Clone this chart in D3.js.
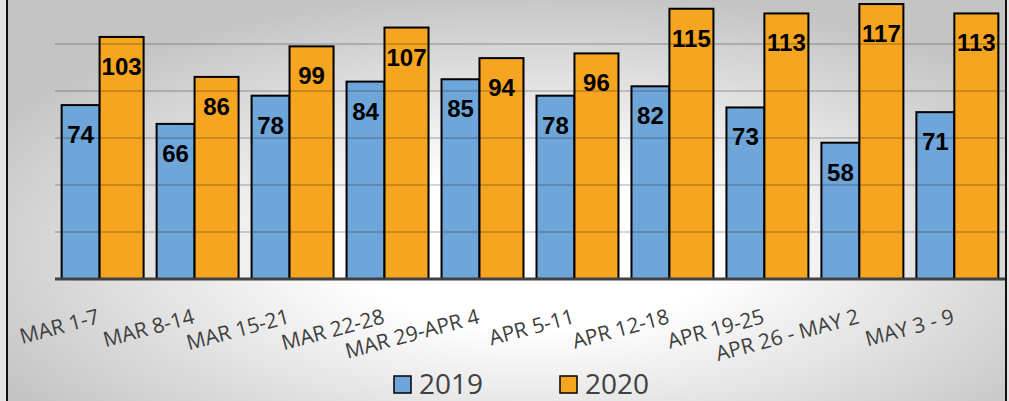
<!DOCTYPE html>
<html>
<head>
<meta charset="utf-8">
<script src="https://cdn.jsdelivr.net/npm/d3@7"></script>
<style>
  html, body { margin: 0; padding: 0; background: #e4e4e4; }
  svg { display: block; }
</style>
</head>
<body>
<svg id="chart"></svg>
<script>
const weeks = ["MAR 1-7", "MAR 8-14", "MAR 15-21", "MAR 22-28", "MAR 29-APR 4",
  "APR 5-11", "APR 12-18", "APR 19-25", "APR 26 - MAY 2", "MAY 3 - 9"];
const values2019 = [74, 66, 78, 84, 85, 78, 82, 73, 58, 71];
const values2020 = [103, 86, 99, 107, 94, 96, 115, 113, 117, 113];
const seriesNames = ["2019", "2020"];
const gridTicks = [20, 40, 60, 80, 100, 120];

const w = 1009;
const h = 401;
const colors = { "2019": "#6fa6d9", "2020": "#f6a521" };

const svg = d3.select("#chart").attr("width", w).attr("height", h);

// background gradient like the office chart
const defs = svg.append("defs");
const grad = defs.append("radialGradient")
  .attr("id", "bg")
  .attr("cx", "53%").attr("cy", "62%")
  .attr("r", "62%");
grad.append("stop").attr("offset", "0%").attr("stop-color", "#ffffff");
grad.append("stop").attr("offset", "30%").attr("stop-color", "#ffffff");
grad.append("stop").attr("offset", "100%").attr("stop-color", "#c4c4c4");

svg.append("rect")
  .attr("x", 7).attr("y", -10)
  .attr("width", 999).attr("height", h + 20)
  .attr("fill", "url(#bg)")
  .attr("stroke", "#111")
  .attr("stroke-width", 2);

const x0 = d3.scaleBand()
  .domain(weeks)
  .range([55, 1005])
  .paddingInner(0.137)
  .paddingOuter(0.07);

const y = d3.scaleLinear().domain([0, 120]).range([279, -3]);

const split = 0.463;
const bw = x0.bandwidth();

const rows = weeks.map((wk, i) => ({ week: wk, "2019": values2019[i], "2020": values2020[i] }));

const groups = svg.append("g")
  .selectAll("g")
  .data(rows)
  .join("g")
  .attr("transform", (d) => `translate(${x0(d.week)},0)`);

const offset = { "2019": 0, "2020": bw * split };
const width = { "2019": bw * split, "2020": bw * (1 - split) };

groups.selectAll("rect")
  .data((d) => seriesNames.map((k) => ({ key: k, value: d[k] })))
  .join("rect")
  .attr("x", (d) => offset[d.key])
  .attr("y", (d) => y(d.value))
  .attr("width", (d) => width[d.key])
  .attr("height", (d) => y(0) - y(d.value))
  .attr("fill", (d) => colors[d.key])
  .attr("stroke", "#000")
  .attr("stroke-width", 2);

groups.selectAll("text")
  .data((d) => seriesNames.map((k) => ({ key: k, value: d[k] })))
  .join("text")
  .attr("x", (d) => offset[d.key] + width[d.key] / 2)
  .attr("y", (d) => y(d.value) + 38)
  .attr("text-anchor", "middle")
  .style("font-family", "'Liberation Sans', Arial, sans-serif")
  .style("font-weight", "bold")
  .style("font-size", "24px")
  .attr("fill", "#000")
  .text((d) => d.value);

// gridlines sit on top, semi transparent
svg.append("g")
  .selectAll("line")
  .data(gridTicks)
  .join("line")
  .attr("x1", 55).attr("x2", 1005)
  .attr("y1", (d) => y(d)).attr("y2", (d) => y(d))
  .attr("stroke", "#000")
  .attr("stroke-opacity", 0.17)
  .attr("stroke-width", 2);

// x axis
const xAxis = svg.append("g")
  .attr("transform", `translate(0,${y(0)})`)
  .call(d3.axisBottom(x0).tickSize(0).tickPadding(0));

xAxis.select(".domain")
  .attr("stroke", "#404040")
  .attr("stroke-width", 3)
  .attr("d", "M55,0H1005");

xAxis.selectAll(".tick text")
  .attr("text-anchor", "end")
  .attr("dy", 0)
  .attr("y", 0)
  .attr("transform", "translate(-2,44) rotate(-15)")
  .style("font-family", "'Open Sans', sans-serif")
  .style("font-size", "21px")
  .attr("fill", "#404040");

// legend
const legend = svg.append("g")
  .selectAll("g")
  .data(seriesNames)
  .join("g")
  .attr("transform", (d, i) => `translate(${394 + i * 166},376)`);

legend.append("rect")
  .attr("width", 17).attr("height", 17)
  .attr("fill", (d) => colors[d])
  .attr("stroke", "#000")
  .attr("stroke-width", 1.5);

legend.append("text")
  .attr("x", 25).attr("y", 18)
  .style("font-family", "'Open Sans', sans-serif")
  .style("font-size", "28px")
  .attr("fill", "#404040")
  .text((d) => d);
</script>
</body>
</html>
